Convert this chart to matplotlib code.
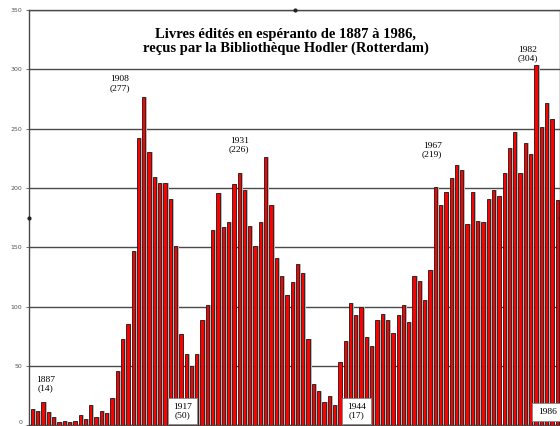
import matplotlib
matplotlib.use("Agg")
import matplotlib.pyplot as plt

# Livres édités en espéranto, par année (Bibliothèque Hodler)
annees = list(range(1887, 1987))
livres = [
    14, 12, 20, 11, 7, 3, 4, 3, 4, 9,
    5, 17, 7, 12, 10, 23, 46, 73, 85, 147,
    242, 277, 230, 209, 204, 204, 191, 151, 77, 60,
    50, 60, 89, 101, 165, 196, 167, 171, 203, 213,
    198, 168, 151, 171, 226, 186, 141, 126, 110, 121,
    136, 128, 73, 35, 29, 20, 25, 17, 53, 71,
    103, 93, 100, 74, 67, 89, 94, 89, 78, 93,
    101, 87, 126, 122, 106, 131, 201, 186, 197, 208,
    219, 215, 170, 197, 172, 171, 191, 198, 193, 213,
    234, 247, 213, 238, 229, 304, 251, 272, 258, 190,
]

titre = "Livres édités en espéranto de 1887 à 1986,\nreçus par la Bibliothèque Hodler (Rotterdam)"
yticks = [0, 50, 100, 150, 200, 250, 300, 350]

# annotations : (texte, x, y)
notes = [
    ("1887\n(14)", 1889.4, 35),
    ("1908\n(277)", 1903.5, 288),
    ("1931\n(226)", 1926.0, 236),
    ("1967\n(219)", 1962.4, 232),
    ("1982\n(304)", 1980.5, 313),
]
notes_cadre = [
    ("1917\n(50)", 1915.3, 12),
    ("1944\n(17)", 1948.1, 12),
    ("1986", 1984.1, 11),
]

fig = plt.figure(figsize=(5.6, 4.26), dpi=100)
ax = fig.add_axes([29 / 560, 0.7 / 426, 531 / 560, 415.3 / 426])

# ombre grise puis barres rouges
ax.bar([a + 0.36 for a in annees], livres, width=0.62, color="#b8b8b8", zorder=2)
ax.bar(annees, livres, width=0.62, color="#ff0000", edgecolor="#1a1a1a",
       linewidth=0.6, zorder=3)

ax.set_xlim(1886.34, 1986.53)
ax.set_ylim(0, 350)
ax.set_yticks(yticks)
ax.set_yticklabels([str(v) for v in yticks], fontsize=4.5, color="#555555",
                   family="DejaVu Sans")
ax.get_yticklabels()[0].set_va("bottom")  # le "0" reste dans l'image
ax.set_xticks([])
ax.tick_params(axis="y", length=2, width=0.6, color="#555555", pad=3)
ax.yaxis.grid(True, color="#4a4a4a", linewidth=1.0, zorder=1)
ax.set_axisbelow(True)
for side in ["left", "top", "bottom", "right"]:
    ax.spines[side].set_color("#4a4a4a")
    ax.spines[side].set_linewidth(1.0)

ax.text(1934.8, 323.5, titre, ha="center", va="center", fontsize=10.5,
        fontweight="bold", family="Liberation Serif", linespacing=1.1, zorder=5)

for txt, x, y in notes:
    ax.text(x, y, txt, ha="center", va="center", fontsize=6.8,
            family="Liberation Serif", linespacing=1.05, zorder=5)

for txt, x, y in notes_cadre:
    ax.text(x, y, txt, ha="center", va="center", fontsize=6.8,
            family="Liberation Serif", linespacing=1.05, zorder=6,
            bbox=dict(boxstyle="square,pad=0.55", fc="white", ec="#888888", lw=0.6))

# petites poignées de sélection
ax.plot([0.5], [1.0], marker="o", ms=2, color="#222222", transform=ax.transAxes,
        clip_on=False, zorder=7)
ax.plot([0.0, 1.0], [0.5, 0.5], marker="o", ms=2, ls="none", color="#222222",
        transform=ax.transAxes, clip_on=False, zorder=7)

fig.savefig("out.png", dpi=100)
